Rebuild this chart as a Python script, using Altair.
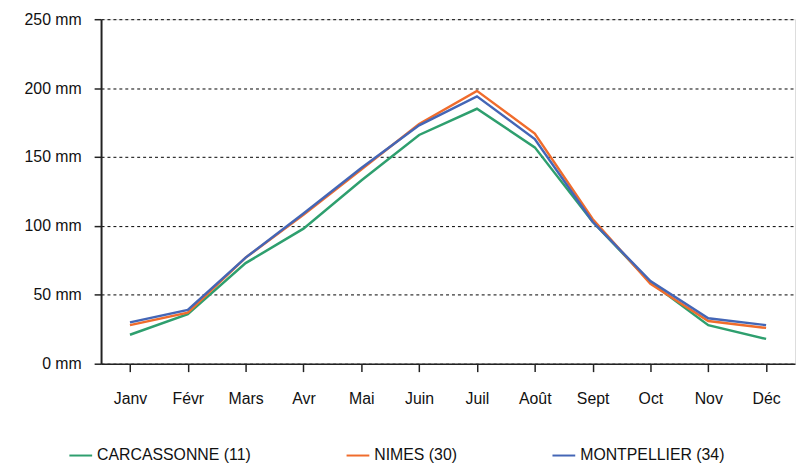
import altair as alt
import pandas as pd

months = ["Janv", "Févr", "Mars", "Avr", "Mai", "Juin", "Juil", "Août", "Sept", "Oct", "Nov", "Déc"]
series_names = ["CARCASSONNE (11)", "NIMES (30)", "MONTPELLIER (34)"]
carcassonne = [21, 36, 73, 98, 133, 166, 185, 157, 103, 59, 28, 18]
nimes = [28, 37, 77, 108, 141, 174, 198, 167, 105, 58, 31, 26]
montpellier = [30, 39, 77, 109, 142, 173, 194, 163, 103, 60, 33, 28]
colors = ["#2e9f6e", "#f06c2c", "#4466b6"]
y_ticks = [0, 50, 100, 150, 200, 250]

rows = []
for name, vals in zip(series_names, [carcassonne, nimes, montpellier]):
    for m, v in zip(months, vals):
        rows.append({"mois": m, "valeur": v, "serie": name, "ordre": series_names.index(name)})
df = pd.DataFrame(rows)

FONT = "Liberation Sans"

chart = alt.Chart(df).mark_line(strokeWidth=2.5).encode(
    x=alt.X("mois:N", sort=months, title=None,
            scale=alt.Scale(paddingInner=0, paddingOuter=0),
            axis=alt.Axis(bandPosition=0, labelAngle=0, grid=False, tickSize=8,
                          labelPadding=19, domainColor="#222222", tickColor="#222222",
                          domainWidth=1.5, tickWidth=1.5, labelFont=FONT, labelFontSize=16,
                          labelColor="#111111")),
    y=alt.Y("valeur:Q", title=None,
            scale=alt.Scale(domain=[0, 250], nice=False),
            axis=alt.Axis(values=y_ticks, labelExpr="datum.value + ' mm'", tickSize=7,
                          labelPadding=13, grid=True, gridColor="#000000", gridDash=[3, 3],
                          gridWidth=1, domainColor="#222222", tickColor="#222222",
                          domainWidth=2, tickWidth=1.5, labelFont=FONT, labelFontSize=16,
                          labelColor="#111111")),
    color=alt.Color("serie:N", sort=series_names,
                    scale=alt.Scale(domain=series_names, range=colors),
                    legend=alt.Legend(title=None, orient="none", direction="horizontal",
                                      legendX=-33, legendY=428, symbolType="stroke",
                                      symbolSize=529, symbolStrokeWidth=2, labelOffset=4,
                                      columnPadding=92, padding=0, labelFont=FONT,
                                      labelFontSize=16, labelColor="#111111")),
    order=alt.Order("ordre:Q"),
).properties(
    width=701, height=348,
    autosize=alt.AutoSizeParams(type="none"),
    padding={"left": 94, "top": 9, "right": 1, "bottom": 100},
).configure_view(stroke=None).configure(background="white")

chart.save("out.html", embed_options={"renderer": "svg", "actions": False})
